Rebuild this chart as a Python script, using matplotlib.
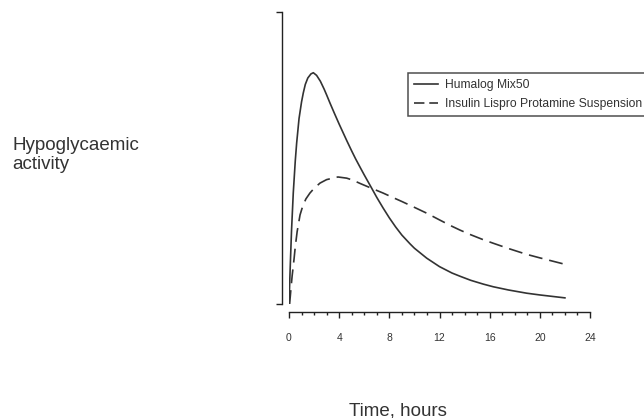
import numpy as np
import matplotlib
matplotlib.use("Agg")
import matplotlib.pyplot as plt
from matplotlib.ticker import MultipleLocator

plt.rcParams['font.family'] = ['Liberation Sans', 'DejaVu Sans']
plt.rcParams['lines.scale_dashes'] = False

# values (activity in arbitrary units, 0..100)
mix50_t = [0, 0.1, 0.2, 0.34, 0.5, 0.61, 0.8, 1.0, 1.14, 1.3, 1.5, 1.75, 1.94,
           2.2, 2.5, 2.8, 3.0, 3.27, 3.6, 4.0, 4.3, 4.6, 5.0, 5.3, 5.66, 6.0,
           6.3, 6.6, 7.0, 7.5, 8.0, 8.5, 9.0, 9.65, 10.0, 10.98, 12.0, 13.0,
           13.64, 14.5, 15.5, 16.29, 17.5, 18.95, 20.0, 21.0, 22.0]
mix50_v = [0, 13, 25, 38, 49, 55.1, 63.5, 69.2, 72.3, 75.2, 77.4, 78.8, 79.2,
           78.3, 76.3, 73.6, 71.6, 68.8, 65.5, 61.6, 58.8, 56.0, 52.4, 49.8, 46.9, 44.2,
           41.9, 39.6, 36.5, 32.9, 29.5, 26.4, 23.6, 20.6, 19.1, 15.7, 12.8, 10.6,
           9.5, 8.1, 6.8, 5.9, 4.8, 3.7, 3.1, 2.6, 2.1]

lpps_t = [0.05, 0.15, 0.25, 0.4, 0.5, 0.65, 0.88, 1.1, 1.35, 1.67, 2.0, 2.47,
          3.0, 3.9, 4.6, 5.1, 5.66, 6.1, 6.6, 7.5, 8.32, 9.0, 10.0, 10.98,
          12.0, 13.0, 13.64, 14.5, 15.5, 16.29, 17.5, 18.95, 20.0, 21.0, 22.0]
lpps_v = [0, 5, 9.6, 15.3, 19.6, 24.8, 30.5, 33.6, 36.0, 38.0, 39.6, 41.4,
          42.6, 43.5, 43.1, 42.4, 41.3, 40.5, 39.6, 38.0, 36.4, 35.1, 33.1, 31.1,
          28.8, 26.6, 25.3, 23.7, 22.0, 20.8, 19.0, 17.0, 15.8, 14.7, 13.6]

labels = ['Humalog Mix50', 'Insulin Lispro Protamine Suspension']
xticks = [0, 4, 8, 12, 16, 20, 24]

fig = plt.figure(figsize=(6.44, 4.18), dpi=100)
ax = fig.add_axes([289 / 644, 1 - 304 / 418, 301 / 644, 292 / 418])

ink = '#333333'
ax.plot(mix50_t, mix50_v, color=ink, lw=1.2, label=labels[0])
ax.plot(lpps_t, lpps_v, color=ink, lw=1.2, dashes=(10, 5), label=labels[1])

ax.set_xlim(0, 24)
ax.set_ylim(0, 100)

for s in ['top', 'right']:
    ax.spines[s].set_visible(False)
ax.spines['left'].set_position(('outward', 5))
ax.spines['bottom'].set_position(('outward', 6))
ax.spines['bottom'].set_bounds(0, 24)
for s in ['left', 'bottom']:
    ax.spines[s].set_linewidth(1.0)
    ax.spines[s].set_color('#222222')

ax.set_yticks([0, 100])
ax.set_yticklabels([])
ax.tick_params(axis='y', direction='out', length=4.3, width=1.0, color='#222222')

ax.set_xticks(xticks)
ax.xaxis.set_minor_locator(MultipleLocator(1))
ax.tick_params(axis='x', which='major', direction='out', length=4.3, width=1.0,
               color='#222222', pad=10.5, labelsize=7.5, labelcolor=ink)
ax.tick_params(axis='x', which='minor', direction='out', length=2.3, width=1.0,
               color='#222222')

leg = fig.legend(loc='upper left', bbox_to_anchor=(408 / 644, 1 - 73 / 418),
                 fontsize=8.7, frameon=True, fancybox=False, handlelength=2.0,
                 handletextpad=0.55, borderpad=0.5, labelspacing=0.6,
                 borderaxespad=0)
leg.get_frame().set_edgecolor('#222222')
leg.get_frame().set_linewidth(1.1)
leg.get_lines()[1].set_dashes((7.5, 3.5))
for t in leg.get_texts():
    t.set_color(ink)

fig.text(12 / 644, 1 - 155 / 418, 'Hypoglycaemic\nactivity', fontsize=13.5,
         color=ink, ha='left', va='center', linespacing=1.15)
fig.text(398 / 644, 1 - 415 / 418, 'Time, hours', fontsize=13.5,
         color=ink, ha='center', va='baseline')

fig.savefig('out.png', dpi=100)
